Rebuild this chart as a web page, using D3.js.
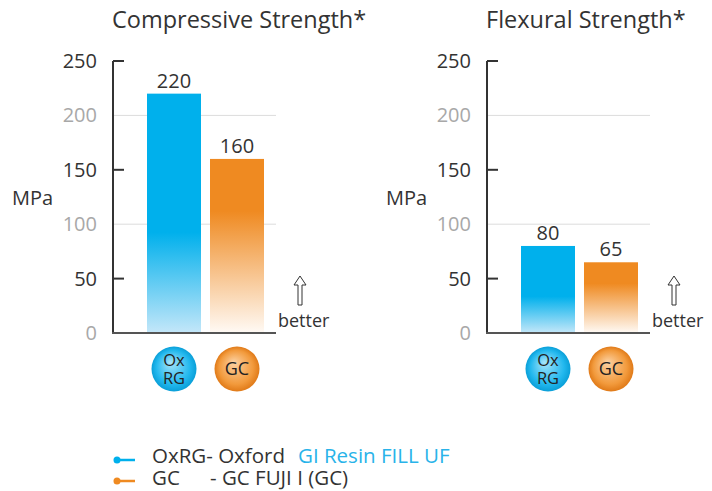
<!DOCTYPE html>
<html>
<head>
<meta charset="utf-8">
<script src="https://cdn.jsdelivr.net/npm/d3@7"></script>
<style>
  body { margin: 0; background: #fff; }
  svg { display: block; font-family: "Open Sans", "Lato", sans-serif; }
</style>
</head>
<body>
<div id="chart"></div>
<script>
// ---- data ----
const chartTitles = ["Compressive Strength*", "Flexural Strength*"];
const products = ["OxRG", "GC"];
const productBadge = [["Ox", "RG"], ["GC"]];
const compressive = [220, 160];
const flexural = [80, 65];
const yTicks = [0, 50, 100, 150, 200, 250];
const legendCodes = ["OxRG", "GC"];
const legendNames = [["- Oxford ", "GI Resin FILL UF"], ["- GC FUJI I (GC)", ""]];

const W = 712, H = 491;
const blue = "#00b0ec", orange = "#ef8a21";
const colors = [blue, orange];

const svg = d3.select("#chart").append("svg")
  .attr("width", W).attr("height", H);

// gradients
const defs = svg.append("defs");
function barGrad(id, top, bottom, solidTo) {
  const g = defs.append("linearGradient").attr("id", id)
    .attr("x1", 0).attr("y1", 0).attr("x2", 0).attr("y2", 1);
  g.append("stop").attr("offset", "0").attr("stop-color", top);
  g.append("stop").attr("offset", solidTo).attr("stop-color", top);
  g.append("stop").attr("offset", "1").attr("stop-color", bottom);
}
barGrad("bar0", blue, "#c4e7f9", 0.58);
barGrad("bar1", orange, "#fffaf5", 0.3);

function ballGrad(id, light, mid, edge) {
  const g = defs.append("radialGradient").attr("id", id)
    .attr("cx", "0.5").attr("cy", "0.5").attr("r", "0.5")
    .attr("fx", "0.42").attr("fy", "0.35");
  g.append("stop").attr("offset", "0").attr("stop-color", light);
  g.append("stop").attr("offset", "0.75").attr("stop-color", mid);
  g.append("stop").attr("offset", "1").attr("stop-color", edge);
}
ballGrad("ball0", "#a6e4fb", "#22b8ee", "#0a9fd8");
ballGrad("ball1", "#fcd2a4", "#f29a3c", "#e07a18");

const y = d3.scaleLinear().domain([0, 250]).range([333, 61]);

function panel(axisX, title, values) {
  const g = svg.append("g");
  const x = d3.scaleBand().domain(products)
    .range([axisX + 34, axisX + 151]).paddingInner(9 / 63).paddingOuter(0);
  const gridEnd = axisX + 163;

  g.append("text").attr("x", axisX - 1).attr("y", 28)
    .attr("font-size", 23.5).attr("fill", "#333").text(title);

  // light gridlines at 100, 200
  g.selectAll(".grid").data(yTicks.filter((d, i) => i % 2 === 0 && d > 0))
    .enter().append("line")
    .attr("x1", axisX).attr("x2", gridEnd)
    .attr("y1", d => y(d)).attr("y2", d => y(d))
    .attr("stroke", "#dcdcdc").attr("stroke-width", 1);

  // bars
  g.selectAll(".bar").data(values).enter().append("rect")
    .attr("x", (d, i) => x(products[i]))
    .attr("width", x.bandwidth())
    .attr("y", d => y(d))
    .attr("height", d => y(0) - y(d))
    .attr("fill", (d, i) => `url(#bar${i})`);

  g.selectAll(".val").data(values).enter().append("text")
    .attr("x", (d, i) => x(products[i]) + x.bandwidth() / 2)
    .attr("y", d => y(d) - 6)
    .attr("text-anchor", "middle").attr("font-size", 20).attr("fill", "#333")
    .text(d => d);

  // axis
  g.append("line").attr("x1", axisX).attr("x2", axisX)
    .attr("y1", y(250)).attr("y2", y(0)).attr("stroke", "#333").attr("stroke-width", 2);
  g.append("line").attr("x1", axisX - 1).attr("x2", gridEnd)
    .attr("y1", y(0)).attr("y2", y(0)).attr("stroke", "#555").attr("stroke-width", 2);
  g.selectAll(".tick").data(yTicks.filter((d, i) => i % 2 === 1))
    .enter().append("line")
    .attr("x1", axisX).attr("x2", axisX + 11)
    .attr("y1", d => y(d)).attr("y2", d => y(d))
    .attr("stroke", "#333").attr("stroke-width", 2);
  g.selectAll(".tl").data(yTicks).enter().append("text")
    .attr("x", axisX - 16).attr("y", d => y(d) + 7)
    .attr("text-anchor", "end").attr("font-size", 20)
    .attr("fill", (d, i) => i % 2 === 1 ? "#333" : "#a8a8a8")
    .text(d => d);

  g.append("text").attr("x", axisX - 101).attr("y", 205)
    .attr("font-size", 20).attr("fill", "#333").text("MPa");

  // better arrow
  const ax = gridEnd + 24;
  g.append("path")
    .attr("d", `M${ax - 2},305 L${ax - 2},285 L${ax - 6},285 L${ax},276 L${ax + 6},285 L${ax + 2},285 L${ax + 2},305 Z`)
    .attr("fill", "#fff").attr("stroke", "#333").attr("stroke-width", 1);
  g.append("text").attr("x", gridEnd + 2).attr("y", 327)
    .attr("font-size", 18).attr("fill", "#333").text("better");

  // badges
  const bg = g.selectAll(".badge").data(products).enter().append("g")
    .attr("transform", d => `translate(${x(d) + x.bandwidth() / 2},369)`);
  bg.append("circle").attr("r", 22.5).attr("fill", (d, i) => `url(#ball${i})`);
  bg.each(function (d, i) {
    const lines = productBadge[i];
    const t = d3.select(this).append("text").attr("text-anchor", "middle")
      .attr("font-size", lines.length === 1 ? 18 : 16.5).attr("fill", "#222");
    lines.forEach((l, j) => {
      t.append("tspan").attr("x", 0)
        .attr("y", lines.length === 1 ? 6 : (j === 0 ? -3 : 15)).text(l);
    });
  });
}

panel(113, chartTitles[0], compressive);
panel(487, chartTitles[1], flexural);

// legend
const lg = svg.append("g");
legendCodes.forEach((c, i) => {
  const ly = 460 + i * 21;
  lg.append("line").attr("x1", 116).attr("x2", 135).attr("y1", ly).attr("y2", ly)
    .attr("stroke", colors[i]).attr("stroke-width", 2.5);
  lg.append("circle").attr("cx", 117).attr("cy", ly).attr("r", 3.5).attr("fill", colors[i]);
  if (i === 0) {
    const t = lg.append("text").attr("x", 152).attr("y", ly + 3)
      .attr("font-size", 20.5).attr("fill", "#333");
    t.append("tspan").text(c + legendNames[i][0]);
    t.append("tspan").attr("x", 298).attr("fill", "#29b3e9").text(legendNames[i][1]);
  } else {
    lg.append("text").attr("x", 152).attr("y", ly + 4).attr("font-size", 20.5).attr("fill", "#333").text(c);
    lg.append("text").attr("x", 210).attr("y", ly + 4).attr("font-size", 20.5).attr("fill", "#333").text(legendNames[i][0]);
  }
});
</script>
</body>
</html>
